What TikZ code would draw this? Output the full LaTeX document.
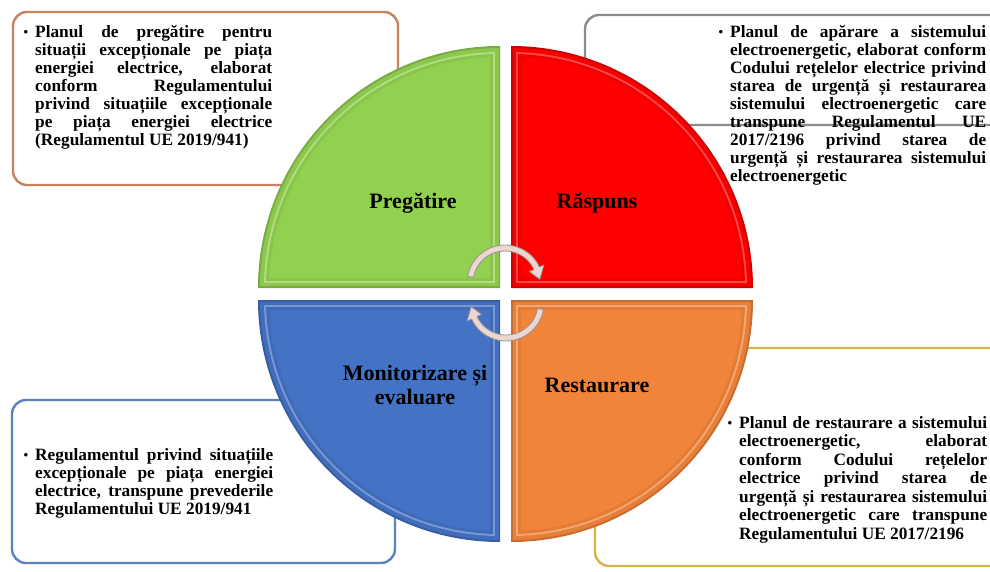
\documentclass[tikz,border=0pt]{standalone}
\usepackage{fontspec}
\setmainfont{Liberation Serif}
\definecolor{qgreen}{HTML}{92D050}
\definecolor{qred}{HTML}{FF0000}
\definecolor{qblue}{HTML}{4472C4}
\definecolor{qorange}{HTML}{F0843A}
\definecolor{bbrown}{HTML}{C8825C}
\definecolor{bgray}{HTML}{8C8C8C}
\definecolor{bblue}{HTML}{5A82BE}
\definecolor{bgold}{HTML}{D4B24C}
\definecolor{arrfill}{HTML}{EBD6D1}
\definecolor{arrline}{HTML}{9A9090}
\newcommand\jline[2]{\makebox[#1][s]{#2}}
\newcommand\bul{\llap{\raisebox{1pt}{\fontsize{13}{13}\selectfont •}\hspace{7pt}}}
\newcommand\myquad[3]{%
  \begin{scope}[shift={#1},#2]
    \fill[#3!82!black] (0,0) -- (242pt,0) arc[start angle=0,end angle=90,radius=242pt] -- cycle;
    \begin{scope}\clip (0,0) circle[radius=240pt];
      \fill[#3!96!black] (1.5pt,1.5pt) rectangle (242pt,242pt);\end{scope}
    \begin{scope}\clip (0,0) circle[radius=236pt];
      \fill[#3!72!white] (5pt,5pt) rectangle (242pt,242pt);\end{scope}
    \begin{scope}\clip (0,0) circle[radius=234pt];
      \fill[#3!94!black] (7pt,7pt) rectangle (242pt,242pt);\end{scope}
    \begin{scope}\clip (0,0) circle[radius=231pt];
      \fill[#3] (10pt,10pt) rectangle (242pt,242pt);\end{scope}
  \end{scope}}
\tikzset{
  infobox/.style={rounded corners=14pt, line width=2.4pt},
  bodytext/.style={anchor=north west, inner sep=0pt, align=left,
    font=\fontsize{17.3}{18}\selectfont\bfseries},
  qlabel/.style={inner sep=0pt, align=center,
    font=\fontsize{22}{23.5}\selectfont\bfseries},
  cyclearrow/.style={fill=arrfill, draw=arrline, line width=0.8pt, line join=round}
}
\begin{document}
\begin{tikzpicture}[x=1pt,y=1pt]
\useasboundingbox (0,0) rectangle (990,571);
\fill[white] (0,0) rectangle (990,571);
% info boxes (behind)
\draw[infobox, bbrown] (13,386) rectangle (398,559);
\draw[infobox, bgray] (585,446) rectangle (1010,556);
\draw[infobox, bblue] (12,8) rectangle (395,171);
\draw[infobox, bgold] (595,5) rectangle (1010,223);
% quadrants
\myquad{(500,283)}{xscale=-1}{qgreen}
\myquad{(511,283)}{}{qred}
\myquad{(500,271)}{xscale=-1,yscale=-1}{qblue}
\myquad{(511,271)}{yscale=-1}{qorange}
% texts
\node[bodytext] (tltext) at (35,546) {\bul\jline{237pt}{Planul de pregătire pentru}\\
\jline{237pt}{situații excepționale pe piața}\\
\jline{237pt}{energiei electrice, elaborat}\\
\jline{237pt}{conform Regulamentului}\\
\jline{237pt}{privind situațiile excepționale}\\
\jline{237pt}{pe piața energiei electrice}\\
(Regulamentul UE 2019/941)};
\node[bodytext] (trtext) at (730,546) {\bul\jline{256pt}{Planul de apărare a sistemului}\\
\jline{256pt}{electroenergetic, elaborat conform}\\
\jline{256pt}{Codului rețelelor electrice privind}\\
\jline{256pt}{starea de urgență și restaurarea}\\
\jline{256pt}{sistemului electroenergetic care}\\
\jline{256pt}{transpune Regulamentul UE}\\
\jline{256pt}{2017/2196 privind starea de}\\
\jline{256pt}{urgență și restaurarea sistemului}\\
electroenergetic};
\node[bodytext] (bltext) at (35,123) {\bul\jline{238pt}{Regulamentul privind situațiile}\\
\jline{238pt}{excepționale pe piața energiei}\\
\jline{238pt}{electrice, transpune prevederile}\\
Regulamentului UE 2019/941};
\node[bodytext, font=\fontsize{17.3}{18.5}\selectfont\bfseries] (brtext) at (739,155) {\bul\jline{248pt}{Planul de restaurare a sistemului}\\
\jline{248pt}{electroenergetic, elaborat}\\
\jline{248pt}{conform Codului rețelelor}\\
\jline{248pt}{electrice privind starea de}\\
\jline{248pt}{urgență și restaurarea sistemului}\\
\jline{248pt}{electroenergetic care transpune}\\
Regulamentului UE 2017/2196};
% quadrant labels
\node[qlabel] (preg) at (413,368) {Pregătire};
\node[qlabel] (rasp) at (597,368) {Răspuns};
\node[qlabel] (mon) at (415,186) {Monitorizare și\\evaluare};
\node[qlabel] (rest) at (597,186) {Restaurare};
% cycle arrows
\begin{scope}[shift={(505,288)}]
\filldraw[cyclearrow] (170:38) arc[start angle=170,end angle=25,radius=38pt] -- (25:43) -- (6:35) -- (25:27) -- (25:32) arc[start angle=25,end angle=170,radius=32pt] -- cycle;
\end{scope}
\begin{scope}[shift={(506,268)}]
\filldraw[cyclearrow] (-10:38) arc[start angle=-10,end angle=-155,radius=38pt] -- (-155:43) -- (-174:35) -- (-155:27) -- (-155:32) arc[start angle=-155,end angle=-10,radius=32pt] -- cycle;
\end{scope}
\end{tikzpicture}
\end{document}
